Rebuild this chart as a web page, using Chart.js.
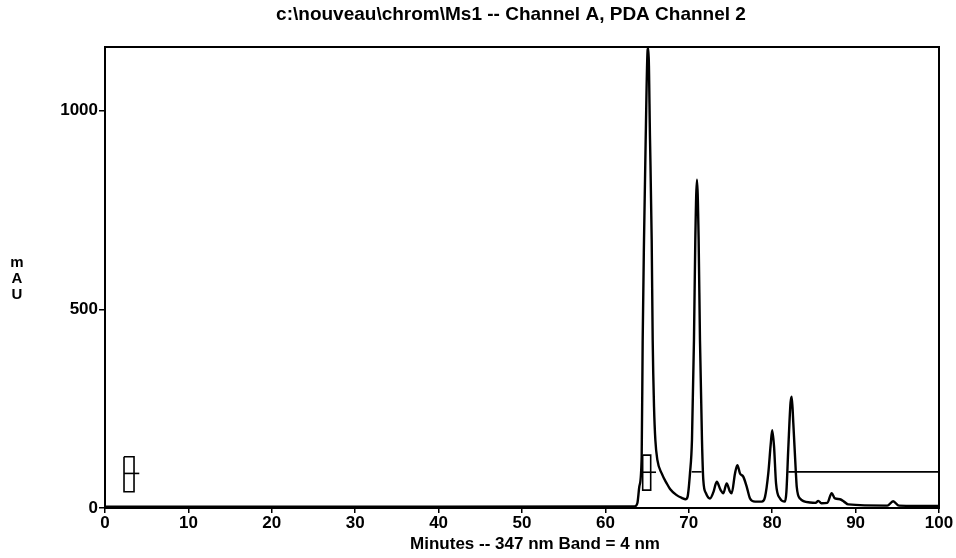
<!DOCTYPE html>
<html>
<head>
<meta charset="utf-8">
<script src="https://cdn.jsdelivr.net/npm/chart.js@4"></script>
<style>
  html, body { margin: 0; padding: 0; background: #fff; }
  #wrap { width: 956px; height: 558px; }
</style>
</head>
<body>
<div id="wrap"><canvas id="chrom"></canvas></div>
<script>
// --- DATA ---
const traceMinutes = [0, 20, 40, 63.5, 63.83, 64.07, 64.35, 64.47, 64.63, 64.83, 65.07, 65.15,
    65.35, 65.55, 65.67, 65.83, 65.99, 66.23, 66.75, 67.35, 67.75, 68.5, 69.2, 69.6, 69.85,
    70.14, 70.38, 70.62, 70.78, 70.98, 71.18, 71.34, 71.58, 71.74, 72.06, 72.54, 72.95, 73.35,
    73.82, 74.14, 74.54, 74.94, 75.14, 75.54, 75.82, 76.14, 76.53, 76.94, 77.34, 77.94, 78.74,
    79.14, 79.53, 79.82, 80.0, 80.22, 80.46, 80.94, 81.53, 81.7, 81.93, 82.2, 82.34, 82.53,
    82.82, 82.94, 83.33, 84.53, 85.2, 85.53, 85.9, 86.6, 87.13, 87.53, 88.13, 88.61, 89.12,
    93.8, 94.5, 95.2, 100];
const traceMAU = [3, 3, 3, 4, 12, 54, 129, 423, 675, 927, 1154, 1157,
    927, 675, 423, 255, 171, 121, 87, 62, 48, 33, 25, 22, 28,
    87, 171, 423, 675, 826, 675, 423, 171, 70, 37, 24, 40, 66,
    45, 37, 62, 41, 37, 87, 108, 87, 79, 54, 24, 16, 16,
    28, 87, 160, 196, 155, 62, 24, 16, 40, 150, 265, 280, 214,
    96, 54, 24, 14, 13, 18, 12, 13, 37, 24, 22, 16, 9,
    6, 17, 6, 5];

// integration event markers
const mark1BoxMin = [2.28, 3.48, 3.48, 2.28, 2.28];
const mark1BoxMAU = [129, 129, 41, 41, 129];
const mark1TickMin = [2.28, 4.11];
const mark1TickMAU = [87, 87];
const mark2BoxMin = [64.47, 65.43, 65.43, 64.47, 64.47];
const mark2BoxMAU = [133, 133, 45, 45, 133];
const mark2TickMin = [64.47, 66.07];
const mark2TickMAU = [90, 90];
const base1Min = [70.34, 71.54];
const base1MAU = [91, 91];
const base2Min = [81.93, 100];
const base2MAU = [91, 91];

const xTicks = [0, 10, 20, 30, 40, 50, 60, 70, 80, 90, 100];
const yTicks = [0, 500, 1000];

const titleText = "c:\\nouveau\\chrom\\Ms1 -- Channel A, PDA Channel 2";
const xTitleText = "Minutes -- 347 nm Band = 4 nm";
const yTitleLetters = ["m", "A", "U"];

const FONT = '"Liberation Sans", Arial, sans-serif';

function toPoints(xs, ys) {
    return xs.map((x, i) => ({ x: x, y: ys[i] }));
}

function markSet(xs, ys) {
    return {
        data: toPoints(xs, ys),
        borderColor: '#000',
        borderWidth: 1.6,
        pointRadius: 0,
        tension: 0,
        fill: false
    };
}

// frame + free-standing labels
const extras = {
    id: 'extras',
    afterDraw(chart) {
        const { ctx, chartArea: a } = chart;
        ctx.save();
        ctx.strokeStyle = '#000';
        ctx.lineWidth = 2;
        ctx.strokeRect(a.left, a.top, a.right - a.left, a.bottom - a.top);

        ctx.fillStyle = '#000';
        ctx.textAlign = 'center';
        ctx.textBaseline = 'middle';
        ctx.font = 'bold 19px ' + FONT;
        ctx.fillText(titleText, 511, 15);

        ctx.font = 'bold 17px ' + FONT;
        ctx.fillText(xTitleText, 535, 544);

        ctx.font = 'bold 15px ' + FONT;
        yTitleLetters.forEach((ch, i) => ctx.fillText(ch, 17, 263 + i * 16));
        ctx.restore();
    }
};

new Chart(document.getElementById('chrom').getContext('2d'), {
    type: 'line',
    data: {
        datasets: [
            {
                data: toPoints(traceMinutes, traceMAU),
                borderColor: '#000',
                borderWidth: 2.4,
                pointRadius: 0,
                cubicInterpolationMode: 'monotone',
                fill: false
            },
            markSet(mark1BoxMin, mark1BoxMAU),
            markSet(mark1TickMin, mark1TickMAU),
            markSet(mark2BoxMin, mark2BoxMAU),
            markSet(mark2TickMin, mark2TickMAU),
            markSet(base1Min, base1MAU),
            markSet(base2Min, base2MAU)
        ]
    },
    options: {
        responsive: true,
        maintainAspectRatio: false,
        animation: false,
        layout: { padding: { left: 0, right: 17, top: 47, bottom: 0 } },
        plugins: {
            legend: { display: false },
            tooltip: { enabled: false },
            title: { display: false }
        },
        scales: {
            x: {
                type: 'linear',
                min: 0,
                max: 100,
                afterBuildTicks: s => { s.ticks = xTicks.map(v => ({ value: v })); },
                afterFit: s => { s.height = 50; },
                grid: { drawOnChartArea: false, color: '#000', lineWidth: 1.5, tickLength: 5 },
                border: { display: true, color: '#000', width: 2 },
                ticks: {
                    color: '#000',
                    padding: 0,
                    maxRotation: 0,
                    callback: v => String(v),
                    font: { family: FONT, size: 17, weight: 'bold' }
                }
            },
            y: {
                min: 0,
                max: 1160,
                afterBuildTicks: s => { s.ticks = yTicks.map(v => ({ value: v })); },
                afterFit: s => { s.width = 105; },
                grid: { drawOnChartArea: false, color: '#000', lineWidth: 1.5, tickLength: 6 },
                border: { display: true, color: '#000', width: 2 },
                ticks: {
                    color: '#000',
                    padding: 1,
                    callback: v => String(v),
                    font: { family: FONT, size: 17, weight: 'bold' }
                }
            }
        }
    },
    plugins: [extras]
});
</script>
</body>
</html>
